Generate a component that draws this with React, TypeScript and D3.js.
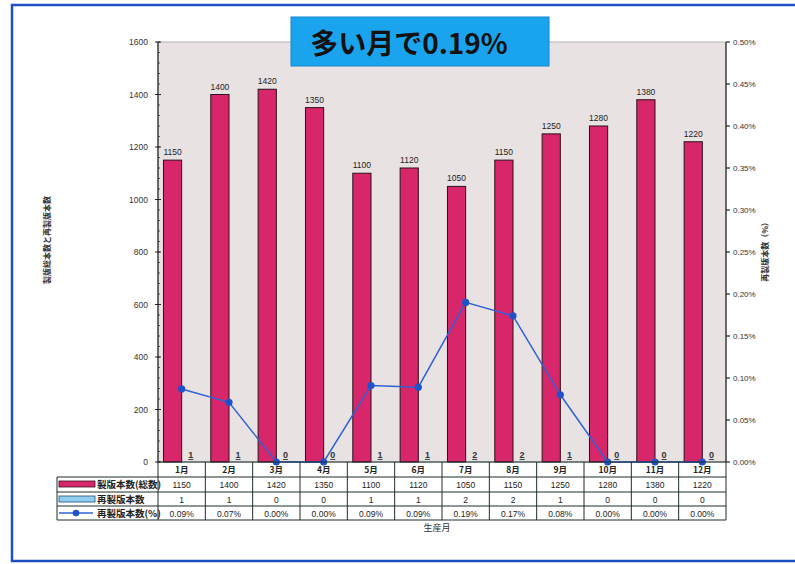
import React from "react";
import * as d3 from "d3";

const months = ["1月","2月","3月","4月","5月","6月","7月","8月","9月","10月","11月","12月"];
const totals = [1150,1400,1420,1350,1100,1120,1050,1150,1250,1280,1380,1220];
const remakes = [1,1,0,0,1,1,2,2,1,0,0,0];
const ratePct = [0.087,0.071,0,0,0.091,0.089,0.190,0.174,0.080,0,0,0];
const rateLabels = ["0.09%","0.07%","0.00%","0.00%","0.09%","0.09%","0.19%","0.17%","0.08%","0.00%","0.00%","0.00%"];
const leftTicks = [0,200,400,600,800,1000,1200,1400,1600];
const rightTicks = [0,0.05,0.1,0.15,0.2,0.25,0.3,0.35,0.4,0.45,0.5];
const seriesNames = ["製版本数(総数)","再製版本数","再製版本数(%)"];

const W = 795, H = 564;
const L = 158, R = 726, T = 42, B = 462;
const JP = "'Noto Sans CJK JP', sans-serif";
const NUM = "'Liberation Sans', Arial, sans-serif";

export default function App() {
  const x = d3.scaleBand<string>().domain(months).range([L, R]).padding(0);
  const yL = d3.scaleLinear().domain([0, 1600]).range([B, T]);
  const yR = d3.scaleLinear().domain([0, 0.5]).range([B, T]);
  const sub = d3.scaleBand<string>().domain(["a","b"]).range([0, x.bandwidth()]).paddingInner(0).paddingOuter(0.3);
  const cx = (m: string) => (x(m) as number) + x.bandwidth() / 2;
  const line = d3.line<number>().x((_, i) => cx(months[i])).y(d => yR(d));
  const minor = d3.range(0, 1601, 40);
  const rowY = [B, 477, 492, 506, 520];
  const tableLeft = 57;
  const gridColor = "#1d2f28";

  return (
    <svg width={W} height={H} style={{ position: "absolute", left: 0, top: 0, background: "#fff" }}>
      <rect x={0} y={0} width={W} height={H} fill="#fff" />
      <rect x={12} y={5} width={W + 10} height={556} fill="none" stroke="#1f4fc4" strokeWidth={2.5} />
      <rect x={L} y={T} width={R - L} height={B - T} fill="#e9e2e3" stroke="#a9a3a5" strokeWidth={0.8} />
      {months.map((m, i) => (
        <g key={m}>
          <rect x={(x(m) as number) + (sub("a") as number)} y={yL(totals[i])} width={sub.bandwidth()} height={B - yL(totals[i])}
            fill="#d8266a" stroke="#2a1018" strokeWidth={1} />
          <rect x={(x(m) as number) + (sub("b") as number)} y={yL(remakes[i])} width={sub.bandwidth()} height={B - yL(remakes[i])}
            fill="#8fd0ee" stroke="none" opacity={remakes[i] ? 1 : 0} />
          <text x={(x(m) as number) + (sub("a") as number) + sub.bandwidth() / 2} y={yL(totals[i]) - 5} fontSize={8.5}
            fontFamily={NUM} textAnchor="middle" fill="#222">{totals[i]}</text>
          <text x={(x(m) as number) + (sub("b") as number) + sub.bandwidth() / 2} y={B - 4} fontSize={9} fontWeight="bold"
            fontFamily={NUM} textAnchor="middle" fill="#333" textDecoration="underline">{remakes[i]}</text>
        </g>
      ))}
      <path d={line(ratePct) || ""} fill="none" stroke="#2f62d4" strokeWidth={1.5} />
      {ratePct.map((v, i) => (
        <circle key={i} cx={cx(months[i])} cy={yR(v)} r={3.6} fill="#1f52c8" />
      ))}
      <line x1={L} x2={L} y1={T} y2={B} stroke="#222" strokeWidth={1.2} />
      {minor.map(v => (
        <line key={v} x1={L} x2={L + 2} y1={yL(v)} y2={yL(v)} stroke="#333" strokeWidth={0.8} />
      ))}
      {leftTicks.map(v => (
        <g key={v}>
          <line x1={L - 3} x2={L + 3} y1={yL(v)} y2={yL(v)} stroke="#222" strokeWidth={1} />
          <text x={148} y={yL(v) + 3} fontSize={8.5} fontFamily={NUM} textAnchor="end" fill="#333">{v}</text>
        </g>
      ))}
      <line x1={R} x2={R} y1={T} y2={B} stroke="#222" strokeWidth={1.2} />
      {rightTicks.map(v => (
        <g key={v}>
          <line x1={R} x2={R + 4} y1={yR(v)} y2={yR(v)} stroke="#222" strokeWidth={1.2} />
          <text x={733} y={yR(v) + 3} fontSize={8} fontFamily={NUM} fill="#333">{v.toFixed(2)}%</text>
        </g>
      ))}
      <text transform="translate(50,240) rotate(-90)" fontSize={8} fontFamily={JP} fontWeight="bold" textAnchor="middle" fill="#333">製版総本数と再製版本数</text>
      <text transform="translate(768,250) rotate(-90)" fontSize={8} fontFamily={JP} fontWeight="bold" textAnchor="middle" fill="#333">再製版本数（%）</text>
      <text x={437} y={531} fontSize={9} fontFamily={JP} textAnchor="middle" fill="#333">生産月</text>
      <g>
        {[rowY[1], rowY[2], rowY[3], rowY[4]].map((yy, k) => (
          <line key={k} x1={tableLeft} x2={R} y1={yy} y2={yy} stroke={gridColor} strokeWidth={1} />
        ))}
        <line x1={L} x2={R} y1={B} y2={B} stroke={gridColor} strokeWidth={1.2} />
        <line x1={tableLeft} x2={tableLeft} y1={rowY[1]} y2={rowY[4]} stroke={gridColor} strokeWidth={1} />
        {months.map(m => (
          <line key={m} x1={x(m) as number} x2={x(m) as number} y1={B} y2={rowY[4]} stroke={gridColor} strokeWidth={1} />
        ))}
        <line x1={R} x2={R} y1={B} y2={rowY[4]} stroke={gridColor} strokeWidth={1} />
        {months.map((m, i) => (
          <g key={m} fontFamily={NUM} fontSize={8.5} textAnchor="middle" fill="#222">
            <text x={cx(m)} y={rowY[0] + 11} fontWeight="bold" fontFamily={JP}>{m}</text>
            <text x={cx(m)} y={rowY[1] + 11}>{totals[i]}</text>
            <text x={cx(m)} y={rowY[2] + 11}>{remakes[i]}</text>
            <text x={cx(m)} y={rowY[3] + 10.5}>{rateLabels[i]}</text>
          </g>
        ))}
        <rect x={59} y={481} width={36} height={6} fill="#d8266a" stroke="#3a1020" strokeWidth={0.8} />
        <rect x={59} y={496} width={36} height={6} fill="#8fd0ee" stroke="#2a4a7a" strokeWidth={0.8} />
        <line x1={59} x2={93} y1={513} y2={513} stroke="#2f62d4" strokeWidth={1.3} />
        <circle cx={76} cy={513} r={3.3} fill="#1f52c8" />
        {seriesNames.map((s, k) => (
          <text key={s} x={97} y={rowY[k + 1] + 11} fontSize={9.5} fontWeight="bold" fontFamily={JP} fill="#222">{s}</text>
        ))}
      </g>
      <rect x={291} y={17} width={258} height={49} fill="#1aa4ee" stroke="#1488cc" strokeWidth={1} />
      <text x={409} y={54} fontSize={28} fontWeight="bold" fontFamily={JP} textAnchor="middle" fill="#111">多い月で0.19%</text>
    </svg>
  );
}
